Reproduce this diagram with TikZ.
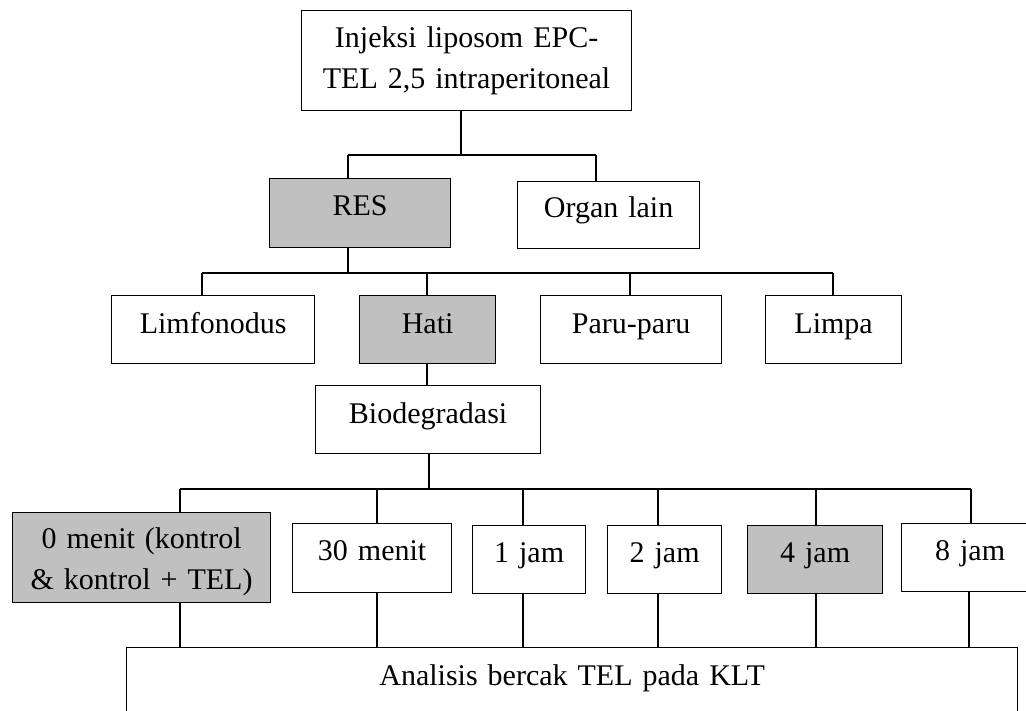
\documentclass[tikz,border=0pt]{standalone}
\usepackage{fontspec}
\setmainfont{Liberation Serif}
\definecolor{shadegray}{HTML}{C0C0C0}
\begin{document}
\begin{tikzpicture}[x=1pt,y=-1pt,
  box/.style={draw=black,line width=1.2pt,inner sep=0pt,align=center,anchor=north west,
    font=\fontsize{30}{40.5}\selectfont},
  shaded/.style={fill=shadegray},
  link/.style={draw=black,line width=1.2pt}]
\useasboundingbox (0,0) rectangle (1026,711);
% boxes
\node[box,text width=330pt,text height=37pt,text depth=63pt] (top) at (301,10) {Injeksi liposom EPC-\\TEL 2,5 intraperitoneal};
\node[box,shaded,text width=181pt,text height=37pt,text depth=32pt] (res) at (269,178) {RES};
\node[box,text width=182pt,text height=36pt,text depth=31pt] (org) at (517,181) {Organ lain};
\node[box,text width=203pt,text height=38pt,text depth=30pt] (lim) at (111,295) {Limfonodus};
\node[box,shaded,text width=136pt,text height=38pt,text depth=30pt] (hati) at (359,295) {Hati};
\node[box,text width=181pt,text height=38pt,text depth=30pt] (paru) at (540,295) {Paru-paru};
\node[box,text width=136pt,text height=38pt,text depth=30pt] (limpa) at (765,295) {Limpa};
\node[box,text width=225pt,text height=38pt,text depth=30pt] (bio) at (315,385) {Biodegradasi};
\node[box,shaded,text width=258pt,text height=36pt,text depth=54pt] (t0) at (12,512) {0 menit (kontrol\\\& kontrol + TEL)};
\node[box,text width=159pt,text height=37pt,text depth=32pt] (t30) at (292,523) {30 menit};
\node[box,text width=113pt,text height=37pt,text depth=31pt] (t1) at (472,525) {1 jam};
\node[box,text width=114pt,text height=37pt,text depth=31pt] (t2) at (607,525) {2 jam};
\node[box,shaded,text width=135pt,text height=37pt,text depth=31pt] (t4) at (747,525) {4 jam};
\node[box,text width=137pt,text height=37pt,text depth=31pt] (t8) at (901,523) {8 jam};
\node[box,text width=891pt,text height=38pt,text depth=50pt] (ana) at (126,647) {Analisis bercak TEL pada KLT};
% junction coordinates
\coordinate (jtop) at (461,155);
\coordinate (jres) at (348,155);
\coordinate (jorg) at (596,155);
\coordinate (kres) at (348,273);
\coordinate (klim) at (202,273);
\coordinate (khati) at (427,273);
\coordinate (kparu) at (630,273);
\coordinate (klimpa) at (833,273);
\coordinate (hbio) at (427,0);
\coordinate (mbio) at (429,489);
\coordinate (m0) at (180,489);
\coordinate (m30) at (377,489);
\coordinate (m1) at (523,489);
\coordinate (m2) at (658,489);
\coordinate (m4) at (816,489);
\coordinate (m8) at (971,489);
\coordinate (d8) at (969,0);
% level 1
\draw[link] (jtop |- top.south) -- (jtop);
\draw[link] (jres) -- (jorg);
\draw[link] (jres) -- (jres |- res.north);
\draw[link] (jorg) -- (jorg |- org.north);
% level 2
\draw[link] (kres |- res.south) -- (kres);
\draw[link] (klim) -- (klimpa);
\draw[link] (klim) -- (klim |- lim.north);
\draw[link] (khati) -- (khati |- hati.north);
\draw[link] (kparu) -- (kparu |- paru.north);
\draw[link] (klimpa) -- (klimpa |- limpa.north);
% hati to biodegradasi
\draw[link] (hbio |- hati.south) -- (hbio |- bio.north);
% level 3
\draw[link] (mbio |- bio.south) -- (mbio);
\draw[link] (m0) -- (m8);
\draw[link] (m0) -- (m0 |- t0.north);
\draw[link] (m30) -- (m30 |- t30.north);
\draw[link] (m1) -- (m1 |- t1.north);
\draw[link] (m2) -- (m2 |- t2.north);
\draw[link] (m4) -- (m4 |- t4.north);
\draw[link] (m8) -- (m8 |- t8.north);
% down to analysis
\draw[link] (m0 |- t0.south) -- (m0 |- ana.north);
\draw[link] (m30 |- t30.south) -- (m30 |- ana.north);
\draw[link] (m1 |- t1.south) -- (m1 |- ana.north);
\draw[link] (m2 |- t2.south) -- (m2 |- ana.north);
\draw[link] (m4 |- t4.south) -- (m4 |- ana.north);
\draw[link] (d8 |- t8.south) -- (d8 |- ana.north);
\end{tikzpicture}
\end{document}
